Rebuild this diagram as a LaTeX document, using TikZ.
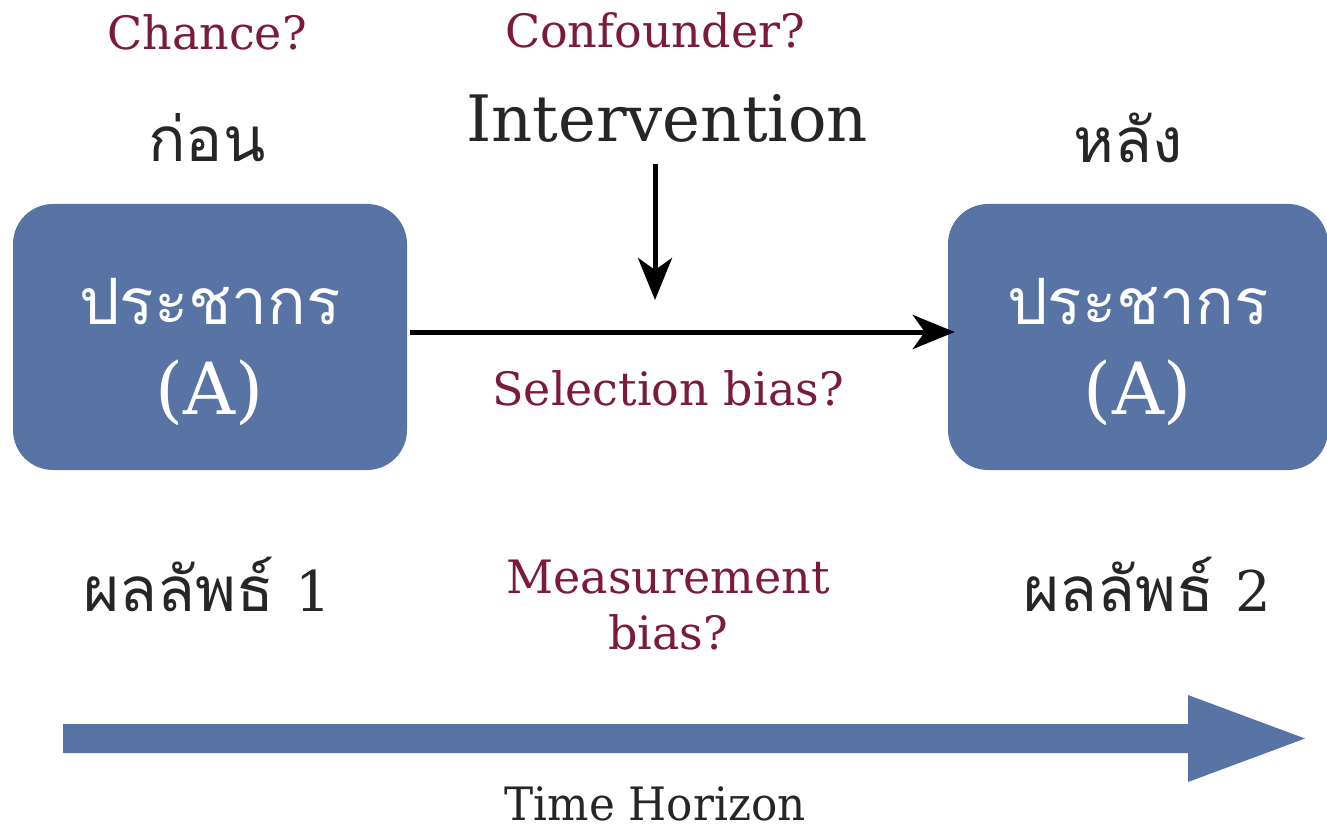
\documentclass[tikz,border=0pt]{standalone}
\usepackage{fontspec}
\setmainfont{DejaVu Serif}
\newfontfamily\thai[Script=Thai]{Loma}
\newfontfamily\cond[FakeStretch=0.95]{DejaVu Serif}
\usetikzlibrary{arrows.meta}
\definecolor{boxblue}{RGB}{87,116,165}
\definecolor{maroon}{RGB}{123,26,61}
\definecolor{ink}{RGB}{38,38,38}
\tikzset{
  popbox/.style={fill=boxblue, rounded corners=40pt, inner sep=0pt},
  boxlabel/.style={text=white, align=center, inner sep=0pt, font=\fontsize{64}{90}\selectfont},
  question/.style={text=maroon, font=\fontsize{46}{56}\selectfont, align=center, inner sep=0pt},
  phase/.style={text=ink, font=\thai\fontsize{62}{70}\selectfont, inner sep=0pt},
  flow/.style={line width=5pt, -{Stealth[length=42pt,width=34pt,inset=12pt]}},
}
\begin{document}
\begin{tikzpicture}[x=1pt,y=-1pt]
  \useasboundingbox (0,0) rectangle (1327,829);

  % populations before and after
  \node[popbox, minimum width=394pt, minimum height=266pt] (before) at (210,337) {};
  \node[popbox, minimum width=380pt, minimum height=266pt] (after) at (1138,337) {};
  \node[boxlabel] (beforetxt) at ([yshift=-15pt]before.center)
    {{\thai ประชากร}\\{\fontsize{72}{90}\selectfont (A)}};
  \node[boxlabel] (aftertxt) at ([yshift=-15pt]after.center)
    {{\thai ประชากร}\\{\fontsize{72}{90}\selectfont (A)}};

  % headings above the boxes
  \node[question] (chance) at (207,32) {Chance?};
  \node[phase] (pre) at (207,138) {ก่อน};
  \node[phase] (post) at (1128,138) {หลัง};
  \node[question] (confounder) at (655,30) {Confounder?};
  \node[text=ink, font=\fontsize{64}{72}\selectfont, inner sep=0pt] (interv) at (667,118) {Intervention};

  % intervention acting on the follow-up
  \coordinate (hit) at (655,300);
  \draw[flow] (interv.south -| hit) ++(0,22) -- (hit);
  \draw[flow] ([xshift=3pt,yshift=5pt]before.east) -- ([xshift=7pt,yshift=5pt]after.west);

  \node[question] (selection) at (668,388) {Selection bias?};

  % outcomes
  \node[phase] (out1) at (207,584) {ผลลัพธ์ {\rmfamily\fontsize{56}{60}\selectfont 1}};
  \node[phase] (out2) at (1147,584) {ผลลัพธ์ {\rmfamily\fontsize{56}{60}\selectfont 2}};
  \node[question] (measure) at (668,605) {Measurement\\bias?};

  % time axis
  \coordinate (t0) at (63,724);
  \fill[boxblue] (t0) -- (1188,724) -- (1188,695) -- (1305,738.5)
    -- (1188,782) -- (1188,753) -- (63,753) -- cycle;
  \node[text=ink, font=\cond\fontsize{46}{50}\selectfont, inner sep=0pt] (horizon) at (655,804) {Time Horizon};
\end{tikzpicture}
\end{document}
